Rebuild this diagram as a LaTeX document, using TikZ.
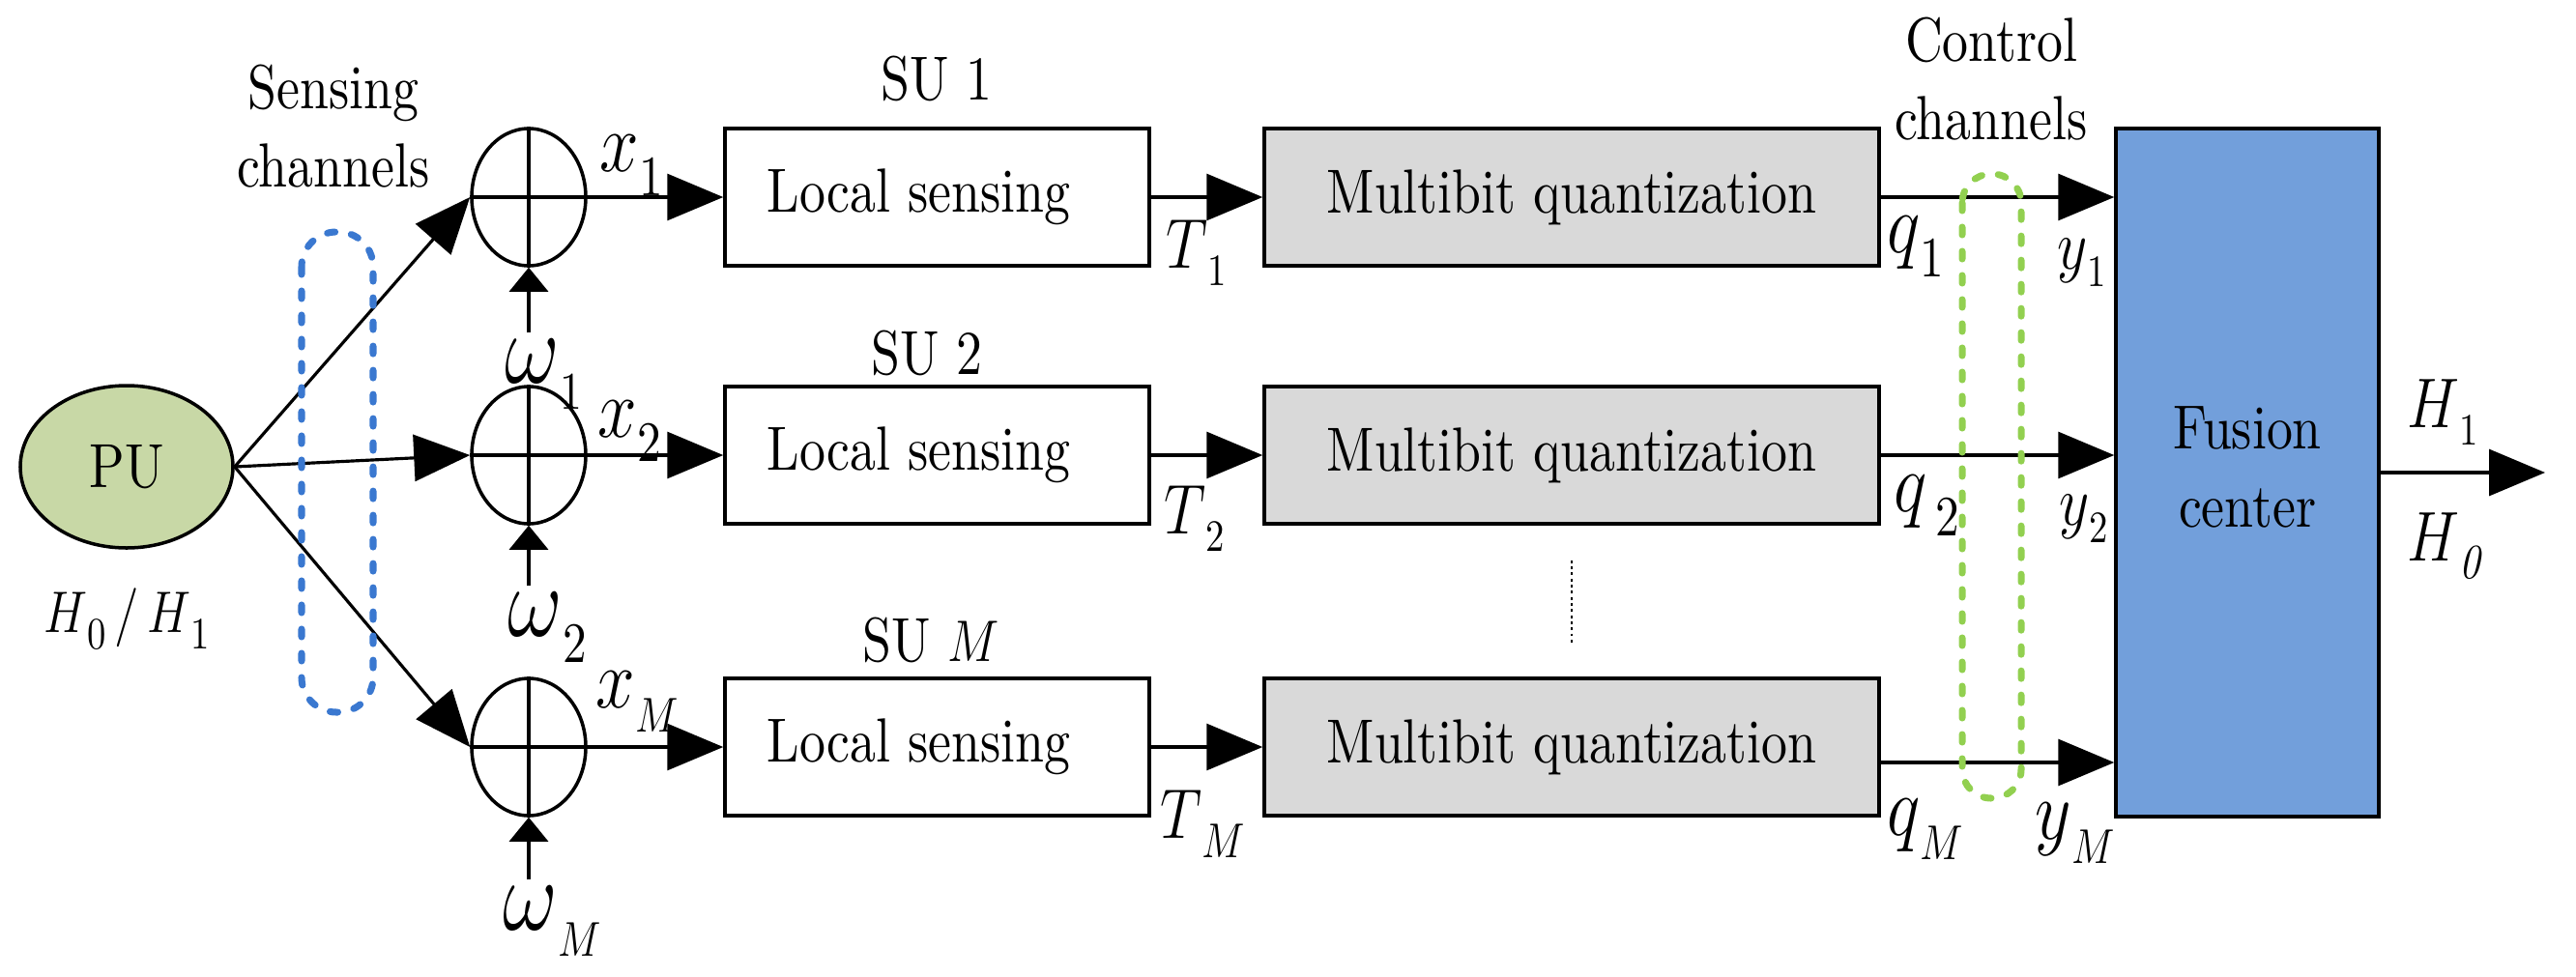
\documentclass[tikz,border=0pt]{standalone}
\usepackage{fontspec}
\setmainfont{lmroman10-regular.otf}[ItalicFont=lmroman10-italic.otf, BoldFont=lmroman10-bold.otf]
\usepackage{graphicx}
\usetikzlibrary{shapes.geometric,arrows.meta}

\definecolor{pugreen}{RGB}{200,216,166}
\definecolor{fcblue}{RGB}{114,159,219}
\definecolor{mqgray}{RGB}{217,217,217}
\definecolor{chblue}{RGB}{58,120,208}
\definecolor{chgreen}{RGB}{146,208,80}

% vertical stretch of the printed text
\newcommand{\vs}[1]{\scalebox{1}[1.2]{#1}}
% italic variable with a lowered index: base, index, sizes
\newcommand{\var}[4]{\vs{\fontsize{#3}{#3}\selectfont$#1$\raisebox{-0.28em}{\fontsize{#4}{#4}\selectfont #2}}}

\tikzset{
	txt/.style={font=\fontsize{15.3}{19}\selectfont, inner sep=0pt},
	box/.style={draw, line width=1pt, minimum height=1.42cm, inner sep=0pt},
	adder/.style={ellipse, draw, line width=1pt, minimum width=1.18cm, minimum height=1.42cm, inner sep=0pt},
	arr/.style={line width=0.9pt, -{Triangle[length=0.58cm, width=0.48cm]}},
	warr/.style={line width=0.9pt, -{Triangle[length=0.25cm, width=0.40cm]}},
	lab/.style={anchor=base west, inner sep=0pt},
	oval/.style={line width=2pt, line cap=round, dash pattern=on 0.08cm off 0.17cm},
}

\begin{document}
\begin{tikzpicture}
	\useasboundingbox (0,0) rectangle (26.65,-10.10);
	% sources and adders
	\node[ellipse, draw, line width=1pt, fill=pugreen, minimum width=2.2cm, minimum height=1.68cm, txt] (pu) at (1.31,-4.83) {\vs{PU}};
	\node[anchor=base, inner sep=0pt] (hyp) at (1.31,-6.54) {\var{H}{0}{14.5}{11}\vs{\fontsize{14.5}{14.5}\selectfont\,/\,}\var{H}{1}{14.5}{11}};
	\node[txt] (sens) at (3.45,-1.37) {\vs{\begin{tabular}{@{}c@{}}Sensing\\channels\end{tabular}}};
	\node[adder] (a1) at (5.47,-2.04) {};
	\node[adder] (a2) at (5.47,-4.71) {};
	\node[adder] (a3) at (5.47,-7.73) {};
	\node[lab] (w1) at (5.22,-3.96) {\var{\omega}{1}{23}{13}};
	\node[lab] (w2) at (5.25,-6.58) {\var{\omega}{2}{23}{14}};
	\node[lab] (w3) at (5.20,-9.62) {\var{\omega}{$M$}{23}{13}};
	% secondary users
	\node[box, minimum width=4.39cm, txt] (ls1) at (9.695,-2.04) {\vs{Local sensing\hspace{0.38cm}}};
	\node[box, minimum width=4.39cm, txt] (ls2) at (9.695,-4.71) {\vs{Local sensing\hspace{0.38cm}}};
	\node[box, minimum width=4.39cm, txt] (ls3) at (9.695,-7.73) {\vs{Local sensing\hspace{0.38cm}}};
	\node[txt, anchor=base] (su1) at (9.69,-1.03) {\vs{SU 1}};
	\node[txt, anchor=base] (su2) at (9.59,-3.87) {\vs{SU 2}};
	\node[txt, anchor=base] (su3) at (9.63,-6.84) {\vs{SU $M$}};
	\node[box, fill=mqgray, minimum width=6.36cm, txt] (mq1) at (16.26,-2.04) {\vs{Multibit quantization}};
	\node[box, fill=mqgray, minimum width=6.36cm, txt] (mq2) at (16.26,-4.71) {\vs{Multibit quantization}};
	\node[box, fill=mqgray, minimum width=6.36cm, txt] (mq3) at (16.26,-7.73) {\vs{Multibit quantization}};
	% fusion
	\node[box, fill=fcblue, minimum width=2.72cm, minimum height=7.12cm, txt] (fc) at (23.25,-4.89) {\vs{\begin{tabular}{@{}c@{}}Fusion\\center\end{tabular}}};
	\node[txt] (ctrl) at (20.60,-0.88) {\vs{\begin{tabular}{@{}c@{}}Control\\channels\end{tabular}}};
	\coordinate (qm) at ([yshift=-0.16cm]mq3.east);
	\coordinate (out) at (26.33,-4.89);

	% adder crosses
	\draw[line width=0.9pt] (a1.north) -- (a1.south) (a1.west) -- (a1.east);
	\draw[line width=0.9pt] (a2.north) -- (a2.south) (a2.west) -- (a2.east);
	\draw[line width=0.9pt] (a3.north) -- (a3.south) (a3.west) -- (a3.east);
	\draw[warr] ([yshift=0.06cm]a1.south |- w1.north) -- (a1.south);
	\draw[warr] ([yshift=0.06cm]a2.south |- w2.north) -- (a2.south);
	\draw[warr] ([yshift=0.06cm]a3.south |- w3.north) -- (a3.south);

	% connectors
	\draw[arr] (pu.east) -- (a1.west);
	\draw[arr] (pu.east) -- (a2.west);
	\draw[arr] (pu.east) -- (a3.west);
	\draw[arr] (a1.east) -- (ls1.west);
	\draw[arr] (a2.east) -- (ls2.west);
	\draw[arr] (a3.east) -- (ls3.west);
	\draw[arr] (ls1.east) -- (mq1.west);
	\draw[arr] (ls2.east) -- (mq2.west);
	\draw[arr] (ls3.east) -- (mq3.west);
	\draw[arr] (mq1.east) -- (mq1.east -| fc.west);
	\draw[arr] (mq2.east) -- (mq2.east -| fc.west);
	\draw[arr] (qm) -- (qm -| fc.west);
	\draw[arr] (fc.east) -- (out);
	\draw[densely dotted, line width=0.8pt] ([yshift=-0.36cm]mq2.south) -- ([yshift=0.32cm]mq3.north);

	% signal labels
	\node[lab] (x1) at (6.20,-1.77) {\var{x}{1}{22}{14}};
	\node[lab] (x2) at (6.18,-4.52) {\var{x}{2}{22}{14}};
	\node[lab] (x3) at (6.16,-7.32) {\var{x}{$M$}{22}{13}};
	\node[lab] (t1) at (12.06,-2.77) {\var{T}{1}{16}{11}};
	\node[lab] (t2) at (12.04,-5.52) {\var{T}{2}{16}{11}};
	\node[lab] (t3) at (12.00,-8.67) {\var{T}{$M$}{17}{12.5}};
	\node[lab] (q1) at (19.52,-2.61) {\var{q}{1}{21.5}{14}};
	\node[lab] (q2) at (19.59,-5.29) {\var{q}{\,2}{21.5}{14}};
	\node[lab] (q3) at (19.52,-8.64) {\var{q}{$M$}{21.5}{12.5}};
	\node[lab] (y1) at (21.28,-2.78) {\var{y}{1}{16}{11}};
	\node[lab] (y2) at (21.30,-5.43) {\var{y}{2}{16}{11}};
	\node[lab] (y3) at (21.05,-8.68) {\var{y}{$M$}{22}{12}};
	\node[lab] (h1) at (24.90,-4.42) {\var{H}{1}{16}{11}};
	\node[lab] (h0) at (24.90,-5.80) {\var{H}{\textit{0}}{16}{12}};

	% channel groups
	\draw[oval, chblue, rounded corners=0.36cm] (3.12,-2.40) rectangle (3.86,-7.37);
	\draw[oval, chgreen, rounded corners=0.30cm] (20.30,-1.80) rectangle (20.91,-8.26);
\end{tikzpicture}
\end{document}
